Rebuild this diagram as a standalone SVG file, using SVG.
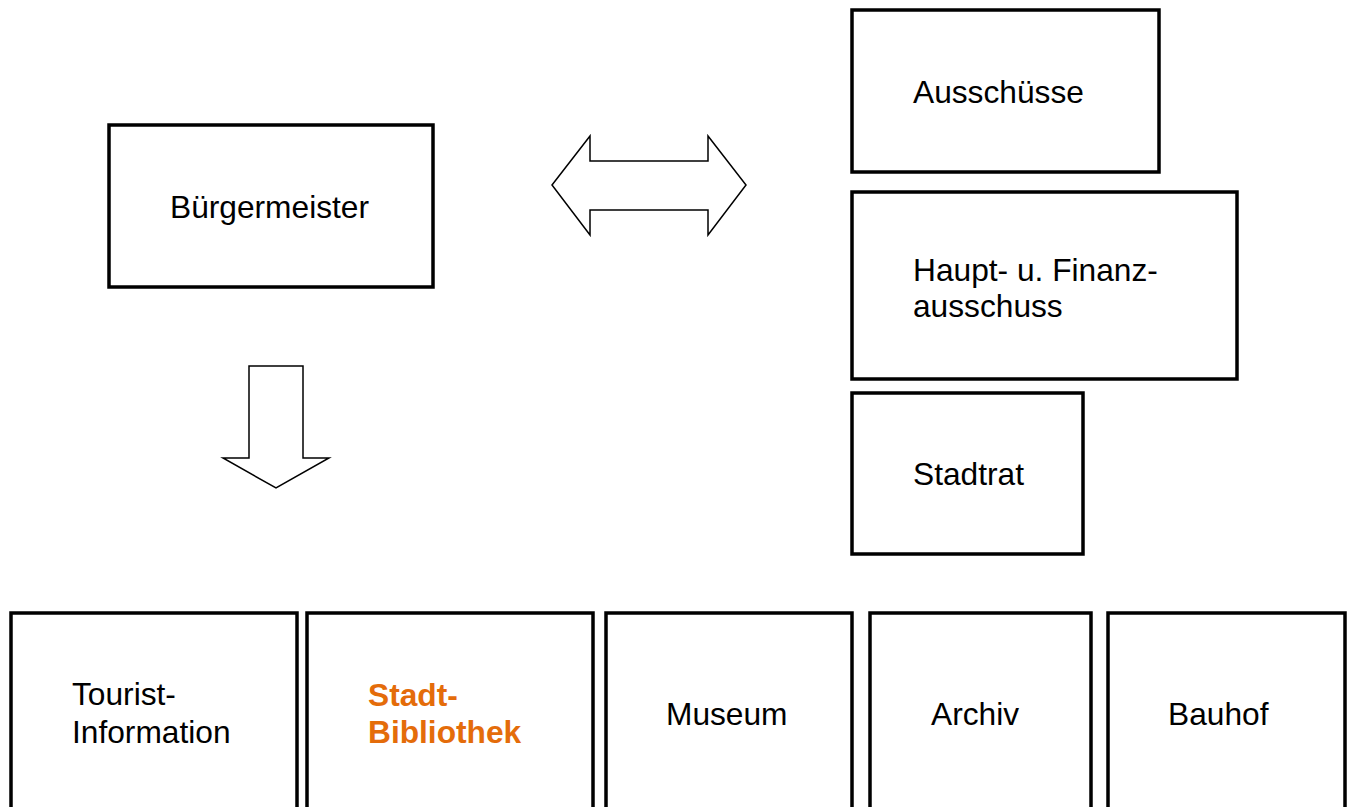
<svg xmlns="http://www.w3.org/2000/svg" width="1348" height="807" viewBox="0 0 1348 807">
<style>
.box{fill:#fff;stroke:#000;stroke-width:3.5}
.arr{fill:#fff;stroke:#000;stroke-width:1.5;stroke-linejoin:miter}
text{font-family:"Liberation Sans",Arial,sans-serif;font-size:31.7px;fill:#000}
.hl{font-weight:bold;fill:#E46C0A}
</style>
<rect width="1348" height="807" fill="#fff"/>
<g id="buergermeister"><rect class="box" x="109" y="125" width="324" height="162"/><text x="170" y="218">Bürgermeister</text></g>
<g id="ausschuesse"><rect class="box" x="852" y="10" width="307" height="162"/><text x="913" y="103">Ausschüsse</text></g>
<g id="haupt"><rect class="box" x="852" y="192" width="385" height="187"/><text x="913" y="281">Haupt- u. Finanz-</text><text x="913" y="317">ausschuss</text></g>
<g id="stadtrat"><rect class="box" x="852" y="393" width="231" height="161"/><text x="913" y="485">Stadtrat</text></g>
<g id="tourist"><rect class="box" x="11" y="613" width="286" height="210"/><text x="72" y="705">Tourist-</text><text x="72" y="743">Information</text></g>
<g id="bibliothek"><rect class="box" x="307" y="613" width="286" height="210"/><text class="hl" x="368" y="706">Stadt-</text><text class="hl" x="368" y="743">Bibliothek</text></g>
<g id="museum"><rect class="box" x="606" y="613" width="246" height="210"/><text x="666" y="725">Museum</text></g>
<g id="archiv"><rect class="box" x="870" y="613" width="221" height="210"/><text x="931" y="725">Archiv</text></g>
<g id="bauhof"><rect class="box" x="1108" y="613" width="237" height="210"/><text x="1168" y="725">Bauhof</text></g>
<g id="connectors">
<polygon class="arr" points="552,185 590,136 590,161 708,161 708,136 746,185 708,235 708,210 590,210 590,235"/>
<polygon class="arr" points="249,366 303,366 303,458 329,458 276,488 223,458 249,458"/>
</g>
</svg>
